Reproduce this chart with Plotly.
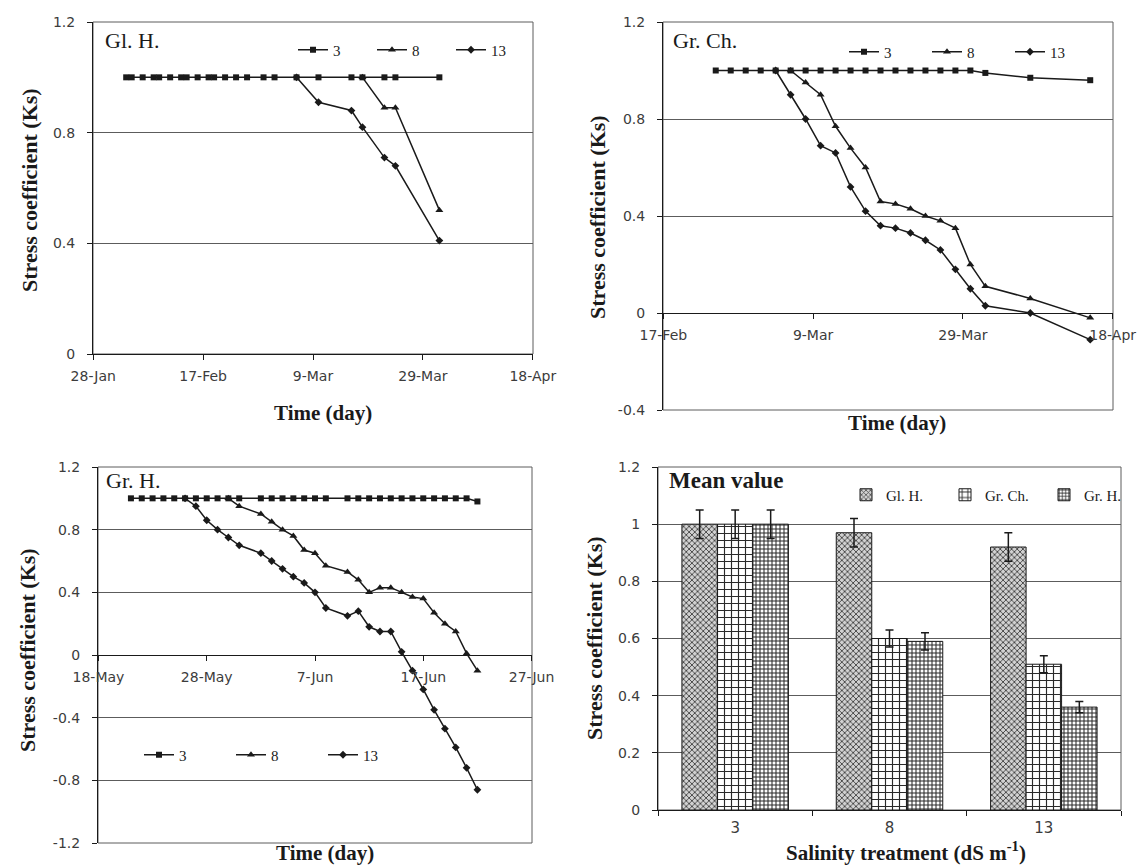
import pandas as pd
import plotly.graph_objects as go

# ---------------- data ----------------
# Gl. H. (stress coefficient Ks by date, salinity 3 / 8 / 13 dS m-1)
glh_dates_3 = ["2009-02-03", "2009-02-04", "2009-02-06", "2009-02-08", "2009-02-09", "2009-02-11",
               "2009-02-13", "2009-02-14", "2009-02-16", "2009-02-18", "2009-02-19", "2009-02-21",
               "2009-02-23", "2009-02-25", "2009-02-28", "2009-03-02", "2009-03-06", "2009-03-10",
               "2009-03-16", "2009-03-18", "2009-03-22", "2009-03-24", "2009-04-01"]
glh_ks_3 = [1.0, 1.0, 1.0, 1.0, 1.0, 1.0, 1.0, 1.0, 1.0, 1.0, 1.0, 1.0,
            1.0, 1.0, 1.0, 1.0, 1.0, 1.0, 1.0, 1.0, 1.0, 1.0, 1.0]
glh_dates_8 = ["2009-03-18", "2009-03-22", "2009-03-24", "2009-04-01"]
glh_ks_8 = [1.0, 0.89, 0.89, 0.52]
glh_dates_13 = ["2009-03-06", "2009-03-10", "2009-03-16", "2009-03-18", "2009-03-22", "2009-03-24", "2009-04-01"]
glh_ks_13 = [1.0, 0.91, 0.88, 0.82, 0.71, 0.68, 0.41]
glh_ticks = ["2009-01-28", "2009-02-17", "2009-03-09", "2009-03-29", "2009-04-18"]
glh_yticks = [0, 0.4, 0.8, 1.2]
glh_ylabels = ["0", "0.4", "0.8", "1.2"]

# Gr. Ch.
grch_dates_3 = ["2009-02-24", "2009-02-26", "2009-02-28", "2009-03-02", "2009-03-04", "2009-03-06",
                "2009-03-08", "2009-03-10", "2009-03-12", "2009-03-14", "2009-03-16", "2009-03-18",
                "2009-03-20", "2009-03-22", "2009-03-24", "2009-03-26", "2009-03-28", "2009-03-30",
                "2009-04-01", "2009-04-07", "2009-04-15"]
grch_ks_3 = [1.0, 1.0, 1.0, 1.0, 1.0, 1.0, 1.0, 1.0, 1.0, 1.0, 1.0, 1.0,
             1.0, 1.0, 1.0, 1.0, 1.0, 1.0, 0.99, 0.97, 0.96]
grch_dates_8 = ["2009-03-06", "2009-03-08", "2009-03-10", "2009-03-12", "2009-03-14", "2009-03-16",
                "2009-03-18", "2009-03-20", "2009-03-22", "2009-03-24", "2009-03-26", "2009-03-28",
                "2009-03-30", "2009-04-01", "2009-04-07", "2009-04-15"]
grch_ks_8 = [1.0, 0.95, 0.90, 0.77, 0.68, 0.60, 0.46, 0.45, 0.43, 0.40, 0.38, 0.35,
             0.20, 0.11, 0.06, -0.02]
grch_dates_13 = ["2009-03-04", "2009-03-06", "2009-03-08", "2009-03-10", "2009-03-12", "2009-03-14",
                 "2009-03-16", "2009-03-18", "2009-03-20", "2009-03-22", "2009-03-24", "2009-03-26",
                 "2009-03-28", "2009-03-30", "2009-04-01", "2009-04-07", "2009-04-15"]
grch_ks_13 = [1.0, 0.90, 0.80, 0.69, 0.66, 0.52, 0.42, 0.36, 0.35, 0.33, 0.30, 0.26,
              0.18, 0.10, 0.03, 0.0, -0.11]
grch_ticks = ["2009-02-17", "2009-03-09", "2009-03-29", "2009-04-18"]
grch_yticks = [-0.4, 0, 0.4, 0.8, 1.2]
grch_ylabels = ["-0.4", "0", "0.4", "0.8", "1.2"]

# Gr. H.
grh_dates_3 = ["2009-05-21", "2009-05-22", "2009-05-23", "2009-05-24", "2009-05-25", "2009-05-26",
               "2009-05-27", "2009-05-28", "2009-05-29", "2009-05-30", "2009-05-31",
               "2009-06-02", "2009-06-03", "2009-06-04", "2009-06-05", "2009-06-06", "2009-06-07",
               "2009-06-08", "2009-06-10", "2009-06-11", "2009-06-12", "2009-06-13", "2009-06-14",
               "2009-06-15", "2009-06-16", "2009-06-17", "2009-06-18", "2009-06-19", "2009-06-20",
               "2009-06-21", "2009-06-22"]
grh_ks_3 = [1.0, 1.0, 1.0, 1.0, 1.0, 1.0, 1.0, 1.0, 1.0, 1.0, 1.0,
            1.0, 1.0, 1.0, 1.0, 1.0, 1.0, 1.0, 1.0, 1.0, 1.0, 1.0, 1.0,
            1.0, 1.0, 1.0, 1.0, 1.0, 1.0, 1.0, 0.98]
grh_dates_8 = ["2009-05-30", "2009-05-31", "2009-06-02", "2009-06-03", "2009-06-04", "2009-06-05",
               "2009-06-06", "2009-06-07", "2009-06-08", "2009-06-10", "2009-06-11", "2009-06-12",
               "2009-06-13", "2009-06-14", "2009-06-15", "2009-06-16", "2009-06-17", "2009-06-18",
               "2009-06-19", "2009-06-20", "2009-06-21", "2009-06-22"]
grh_ks_8 = [1.0, 0.95, 0.90, 0.85, 0.80, 0.76, 0.67, 0.65, 0.57, 0.53, 0.48, 0.40,
            0.43, 0.43, 0.40, 0.37, 0.36, 0.27, 0.20, 0.15, 0.01, -0.10]
grh_dates_13 = ["2009-05-26", "2009-05-27", "2009-05-28", "2009-05-29", "2009-05-30", "2009-05-31",
                "2009-06-02", "2009-06-03", "2009-06-04", "2009-06-05", "2009-06-06", "2009-06-07",
                "2009-06-08", "2009-06-10", "2009-06-11", "2009-06-12", "2009-06-13", "2009-06-14",
                "2009-06-15", "2009-06-16", "2009-06-17", "2009-06-18", "2009-06-19", "2009-06-20",
                "2009-06-21", "2009-06-22"]
grh_ks_13 = [1.0, 0.95, 0.86, 0.80, 0.75, 0.70, 0.65, 0.60, 0.55, 0.50, 0.46, 0.40,
             0.30, 0.25, 0.28, 0.18, 0.15, 0.15, 0.02, -0.10, -0.22, -0.35, -0.47, -0.59,
             -0.72, -0.86]
grh_ticks = ["2009-05-18", "2009-05-28", "2009-06-07", "2009-06-17", "2009-06-27"]
grh_yticks = [-1.2, -0.8, -0.4, 0, 0.4, 0.8, 1.2]
grh_ylabels = ["-1.2", "-0.8", "-0.4", "0", "0.4", "0.8", "1.2"]

# Mean values with error bars
salinity = ["3", "8", "13"]
mean_glh = [1.0, 0.97, 0.92]
err_glh = [0.05, 0.05, 0.05]
mean_grch = [1.0, 0.60, 0.51]
err_grch = [0.05, 0.03, 0.03]
mean_grh = [1.0, 0.59, 0.36]
err_grh = [0.05, 0.03, 0.02]
mean_yticks = [0, 0.2, 0.4, 0.6, 0.8, 1.0, 1.2]
mean_ylabels = ["0", "0.2", "0.4", "0.6", "0.8", "1", "1.2"]

# ---------------- styling ----------------
W, H = 1139, 868
SERIF = "Liberation Serif, Times New Roman, serif"
SANS = "DejaVu Sans, Verdana, sans-serif"
INK = "#1a1a1a"
GRID = "#5c5c5c"
TICKTXT = "#3c3c3c"


def fx(px):
    return px / W


def fy(px):
    return 1 - px / H


# plot areas in pixels: left, right, top, bottom
P1 = (93, 533, 22, 354)
P2 = (663, 1113, 22, 410)
P3 = (98, 532, 467, 843)
P4 = (658, 1121, 467, 810)

SYMBOL = {"3": "square", "8": "triangle-up", "13": "diamond"}
MSIZE = {"3": 6, "8": 7, "13": 6}

fig = go.Figure()


def add_series(dates, ks, name, xa, ya, legend):
    fig.add_trace(go.Scatter(
        x=dates, y=ks, name=name, mode="lines+markers", xaxis=xa, yaxis=ya, legend=legend,
        line=dict(color=INK, width=1.5),
        marker=dict(symbol=SYMBOL[name], size=MSIZE[name], color=INK),
    ))


add_series(glh_dates_3, glh_ks_3, "3", "x", "y", "legend")
add_series(glh_dates_8, glh_ks_8, "8", "x", "y", "legend")
add_series(glh_dates_13, glh_ks_13, "13", "x", "y", "legend")

add_series(grch_dates_3, grch_ks_3, "3", "x2", "y2", "legend2")
add_series(grch_dates_8, grch_ks_8, "8", "x2", "y2", "legend2")
add_series(grch_dates_13, grch_ks_13, "13", "x2", "y2", "legend2")

add_series(grh_dates_3, grh_ks_3, "3", "x3", "y3", "legend3")
add_series(grh_dates_8, grh_ks_8, "8", "x3", "y3", "legend3")
add_series(grh_dates_13, grh_ks_13, "13", "x3", "y3", "legend3")

bar_styles = [
    ("Gl. H.", mean_glh, err_glh, dict(shape="x", size=4, solidity=0.4, fgcolor="#404040", bgcolor="#d2d2d2")),
    ("Gr. Ch.", mean_grch, err_grch, dict(shape="+", size=7, solidity=0.3, fgcolor="#2a2a2a", bgcolor="#ffffff")),
    ("Gr. H.", mean_grh, err_grh, dict(shape="+", size=4, solidity=0.45, fgcolor="#2a2a2a", bgcolor="#ffffff")),
]
for name, vals, errs, pat in bar_styles:
    fig.add_trace(go.Bar(
        x=salinity, y=vals, name=name, xaxis="x4", yaxis="y4", legend="legend4",
        marker=dict(line=dict(color=INK, width=1), pattern=pat),
        error_y=dict(type="data", array=errs, color=INK, thickness=1.5, width=4),
    ))


def yaxis(box, rng, tickvals, ticktext, anchor):
    l, r, t, b = box
    return dict(domain=[fy(b), fy(t)], range=rng, tickvals=tickvals, ticktext=ticktext, anchor=anchor,
                showline=True, linecolor=INK, linewidth=1, ticks="outside", ticklen=5,
                tickcolor=INK, showgrid=True, gridcolor=GRID, gridwidth=1, zeroline=False,
                tickfont=dict(family=SANS, size=14, color=TICKTXT), ticklabelstandoff=9,
                automargin=False)


def date_axis(box, ticks, anchor, position=None):
    l, r, t, b = box
    lo = (pd.Timestamp(ticks[0]) - pd.Timedelta(hours=1)).isoformat()
    hi = (pd.Timestamp(ticks[-1]) + pd.Timedelta(hours=1)).isoformat()
    d = dict(domain=[fx(l), fx(r)], type="date", range=[lo, hi], tickvals=ticks,
             tickformat="%-d-%b", anchor=anchor, showline=True, linecolor=INK, linewidth=1,
             ticks="outside", ticklen=5, tickcolor=INK, showgrid=False, zeroline=False,
             tickfont=dict(family=SANS, size=14, color=TICKTXT), ticklabelstandoff=4,
             automargin=False)
    if position is not None:
        d["anchor"] = "free"
        d["position"] = position
    return d


def zero_position(box, rng):
    l, r, t, b = box
    lo, hi = rng
    return fy(b) + (0 - lo) / (hi - lo) * (fy(t) - fy(b))


r1, r2, r3 = [0, 1.2], [-0.4, 1.2], [-1.2, 1.2]

layout = dict(
    template="none",
    width=W, height=H, margin=dict(l=0, r=0, t=0, b=0, autoexpand=False),
    paper_bgcolor="white", plot_bgcolor="white",
    barmode="group", bargap=0.31, bargroupgap=0,
    xaxis=date_axis(P1, glh_ticks, "y"),
    yaxis=yaxis(P1, r1, glh_yticks, glh_ylabels, "x"),
    xaxis2=date_axis(P2, grch_ticks, "y2", zero_position(P2, r2)),
    yaxis2=yaxis(P2, r2, grch_yticks, grch_ylabels, "x2"),
    xaxis3=date_axis(P3, grh_ticks, "y3", zero_position(P3, r3)),
    yaxis3=yaxis(P3, r3, grh_yticks, grh_ylabels, "x3"),
    xaxis4=dict(domain=[fx(P4[0]), fx(P4[1])], type="category", anchor="y4", showline=True,
                linecolor=INK, linewidth=1, ticks="outside", ticklen=5, tickcolor=INK,
                tickson="boundaries", showgrid=False, automargin=False,
                tickfont=dict(family=SANS, size=15, color=TICKTXT), ticklabelstandoff=4),
    yaxis4=yaxis(P4, [0, 1.2], mean_yticks, mean_ylabels, "x4"),
)

legend_common = dict(orientation="h", xanchor="left", yanchor="middle", bgcolor="rgba(0,0,0,0)",
                     font=dict(family=SERIF, size=15, color=INK), itemwidth=30,
                     entrywidthmode="pixels", tracegroupgap=0, traceorder="normal")
layout["legend"] = dict(legend_common, x=fx(293), y=fy(50), entrywidth=34)
layout["legend2"] = dict(legend_common, x=fx(844), y=fy(52), entrywidth=38)
layout["legend3"] = dict(legend_common, x=fx(139), y=fy(755), entrywidth=47)
layout["legend4"] = dict(legend_common, x=fx(846), y=fy(495), entrywidth=54)

fig.update_layout(**layout)

# plot-area frames
for xr, yr in [("x", "y"), ("x2", "y2"), ("x3", "y3"), ("x4", "y4")]:
    fig.add_shape(type="rect", xref=f"{xr} domain", yref=f"{yr} domain", x0=0, x1=1, y0=0, y1=1,
                  line=dict(color=GRID, width=1), layer="below")

# panel labels
panel_labels = [("Gl. H.", 103, 40, False), ("Gr. Ch.", 671, 40, False),
                ("Gr. H.", 104, 480, False), ("Mean value", 667, 480, True)]
for text, x, y, bold in panel_labels:
    fig.add_annotation(text=f"<b>{text}</b>" if bold else text, x=fx(x), y=fy(y), xref="paper", yref="paper",
                       xanchor="left", yanchor="middle", showarrow=False,
                       font=dict(family=SERIF, size=23 if bold else 22, color=INK))

# axis titles
x_titles = [("Time (day)", 323, 413), ("Time (day)", 897, 423), ("Time (day)", 325, 853),
            ("Salinity treatment (dS m<sup>-1</sup>)", 906, 851)]
for text, x, y in x_titles:
    fig.add_annotation(text=f"<b>{text}</b>", x=fx(x), y=fy(y), xref="paper", yref="paper",
                       xanchor="center", yanchor="middle", showarrow=False,
                       font=dict(family=SERIF, size=21, color=INK))

y_titles = [(29, 190), (597, 217), (27, 650), (594, 638)]
for x, y in y_titles:
    fig.add_annotation(text="<b>Stress coefficient (Ks)</b>", x=fx(x), y=fy(y), xref="paper", yref="paper",
                       xanchor="center", yanchor="middle", showarrow=False, textangle=-90,
                       font=dict(family=SERIF, size=22, color=INK))

fig.write_html("out.html")
